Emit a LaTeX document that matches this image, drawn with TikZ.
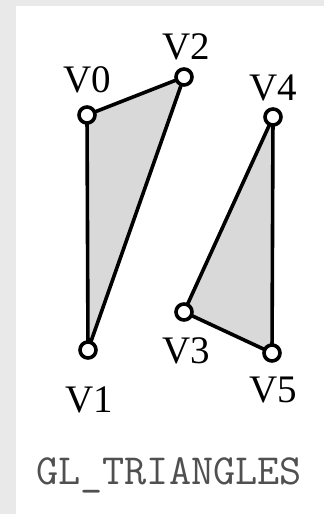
\documentclass[tikz,border=0pt]{standalone}
\usepackage{fontspec}
\setmainfont{Liberation Serif}
\usepackage{tikz}
\usetikzlibrary{backgrounds}
\definecolor{pagegray}{RGB}{233,233,233}
\definecolor{trifill}{RGB}{217,217,217}
\definecolor{captiongray}{RGB}{80,80,80}

\begin{document}
\begin{tikzpicture}[x=1pt, y=-1pt,
    vert/.style={draw, circle, fill=white, inner sep=0pt, minimum size=16pt, line width=3.6pt},
    edge/.style={line width=3.6pt, line join=round, fill=trifill},
    vlabel/.style={font=\fontsize{39}{39}\selectfont, inner sep=0pt}]
    \useasboundingbox (0,0) rectangle (324,514);

    \node[vert] (v0) at (87,115) {};
    \node[vert] (v1) at (88,350) {};
    \node[vert] (v2) at (184,77) {};
    \node[vert] (v3) at (184,312) {};
    \node[vert] (v4) at (273,117) {};
    \node[vert] (v5) at (272,353) {};

    \node[vlabel] (l0) at (87,80) {V0};
    \node[vlabel] (l1) at (89,400) {V1};
    \node[vlabel] (l2) at (186,47) {V2};
    \node[vlabel] (l3) at (186,351) {V3};
    \node[vlabel] (l4) at (273,88) {V4};
    \node[vlabel] (l5) at (273,390) {V5};

    \begin{scope}[on background layer]
        \fill[pagegray] (0,0) rectangle (324,514);
        \fill[white] (16,6) rectangle (324,514);
        \filldraw[edge] (v0.center) -- (v1.center) -- (v2.center) -- cycle;
        \filldraw[edge] (v3.center) -- (v4.center) -- (v5.center) -- cycle;
    \end{scope}

    \node[font=\ttfamily\fontsize{43}{43}\selectfont, text=captiongray] (mode) at (169,475) {GL\_TRIANGLES};
\end{tikzpicture}
\end{document}
